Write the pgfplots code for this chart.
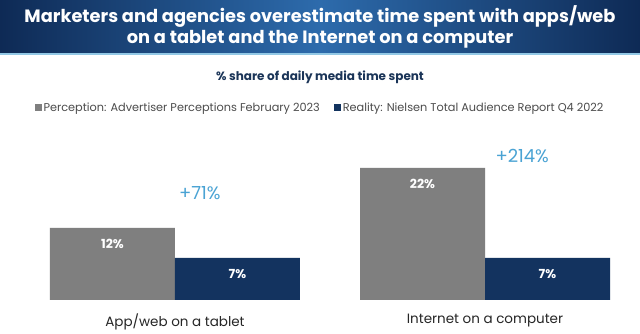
\documentclass[border=0pt]{standalone}
\usepackage{pgfplots}
\pgfplotsset{compat=1.18}
\usepackage{fontspec}
\setmainfont{Poppins}
\definecolor{perc}{HTML}{7F7F7F}
\definecolor{real}{HTML}{13335F}
\definecolor{navyedge}{HTML}{0E2A55}
\definecolor{navymid}{HTML}{2D6BAC}
\definecolor{anno}{HTML}{4AA3D4}
\definecolor{subt}{HTML}{1B3558}
\begin{document}
\begin{tikzpicture}[x=1pt,y=1pt]
\path[use as bounding box, fill=white] (0,0) rectangle (640,334);
\shade[left color=navyedge, right color=navyedge, middle color=navymid] (0,280) rectangle (640,334);
\fill[anno!60!white] (0,279) rectangle (640,280.5);
\node[text=white, font=\bfseries\fontsize{17.8}{21}\selectfont, align=center] at (320,307)
  {Marketers and agencies overestimate time spent with apps/web\\on a tablet and the Internet on a computer};
\node[text=subt, font=\bfseries\fontsize{12}{14}\selectfont] at (320,257) {\% share of daily media time spent};
\begin{axis}[
  at={(0,57)}, anchor=south west,
  scale only axis, width=640pt, height=240pt,
  xmin=-0.5645, xmax=1.5, ymin=0, ymax=40,
  ybar=0pt, bar width=125pt,
  axis line style={draw=none}, tick style={draw=none},
  ytick=\empty, xtick={0,1},
  xticklabels={App/web on a tablet, Internet on a computer},
  xticklabel style={font=\fontsize{13.5}{15}\selectfont, text=black!85, yshift=-6pt},
  /pgf/number format/assume math mode=true,
  nodes near coords={\pgfmathprintnumber{\pgfplotspointmeta}\%},
  every node near coord/.append style={text=white, font=\bfseries\fontsize{12.5}{14}\selectfont, anchor=center, yshift=-16pt},
  legend style={at={(0.5,0.8)}, anchor=center, draw=none, fill=none,
    legend columns=2, font=\fontsize{11.3}{12}\selectfont, text=black!70,
    /tikz/every even column/.append style={column sep=12pt}},
  legend image code/.code={\fill[#1] (0pt,-3.5pt) rectangle (7pt,3.5pt);},
  clip=false,
]
\addplot[fill=perc, draw=none] coordinates {(0,12) (1,22)};
\addplot[fill=real, draw=none] coordinates {(0,7) (1,7)};
\legend{Perception: Advertiser Perceptions February 2023, Reality: Nielsen Total Audience Report Q4 2022}
\node[text=anno, font=\fontsize{18}{20}\selectfont] at (axis cs:0.08,17.8) {+71\%};
\node[text=anno, font=\fontsize{18}{20}\selectfont] at (axis cs:1.12,24) {+214\%};
\end{axis}
\end{tikzpicture}
\end{document}
